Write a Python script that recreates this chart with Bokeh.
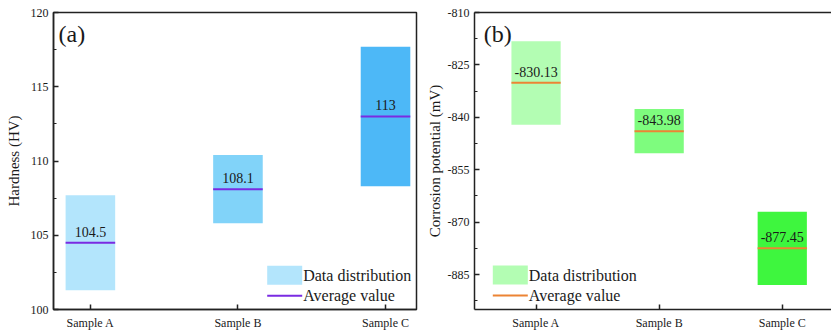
from bokeh.plotting import figure
from bokeh.layouts import row
from bokeh.models import FixedTicker, Range1d, LinearAxis
from bokeh.embed import file_html
from bokeh.resources import INLINE
from bokeh.core.properties import value

# ---------------- data ----------------
samples = ["Sample A", "Sample B", "Sample C"]
xpos = [1, 2, 3]

hard_low = [101.3, 105.8, 108.3]
hard_high = [107.7, 110.4, 117.7]
hard_avg = [104.5, 108.1, 113.0]
hard_text = ["104.5", "108.1", "113"]
hard_ticks = [100, 105, 110, 115, 120]
hard_tick_labels = ["100", "105", "110", "115", "120"]
hard_minor = [102.5, 107.5, 112.5, 117.5]

corr_low = [-842.1, -850.3, -888.0]
corr_high = [-818.2, -837.6, -867.0]
corr_avg = [-830.13, -843.98, -877.45]
corr_text = ["-830.13", "-843.98", "-877.45"]
corr_ticks = [-885, -870, -855, -840, -825, -810]
corr_tick_labels = ["-885", "-870", "-855", "-840", "-825", "-810"]
corr_minor = [-892.5, -877.5, -862.5, -847.5, -832.5, -817.5]

hard_colors = ["#b3e5fc", "#81d3f9", "#4db8f7"]
corr_colors = ["#b3fdb3", "#7efc7e", "#3ef63e"]
hard_line = "#7a2be2"
corr_line = "#ec8434"

FONT = "Liberation Serif"
TXT = "#1a1a1a"
AX = "#222222"
FH = 297
TOP = 12


def panel(fw, ml, mr, xr, yr, ticks, tick_labels, minor, ylabel, lo, hi,
          avg, texts, colors, avg_color, bar_w, tag, leg_px, tag_px,
          lab_standoff):
    p = figure(frame_width=fw, frame_height=FH, x_range=Range1d(*xr),
               y_range=Range1d(*yr), min_border_left=ml, min_border_right=mr,
               min_border_top=TOP, min_border_bottom=24,
               output_backend="svg", toolbar_location=None,
               background_fill_color="white", border_fill_color="white")
    p.xgrid.visible = False
    p.ygrid.visible = False

    def px(xp, yp):
        # convert frame pixel offsets to data coordinates (layout helper)
        x = xr[0] + (xr[1] - xr[0]) * xp / fw
        y = yr[1] - (yr[1] - yr[0]) * yp / FH
        return x, y

    for ax in (p.xaxis[0], p.yaxis[0]):
        ax.axis_line_color = AX
        ax.axis_line_width = 1.5
        ax.major_tick_line_color = AX
        ax.major_tick_line_width = 1.5
        ax.minor_tick_line_color = AX
        ax.minor_tick_line_width = 1.2
        ax.major_tick_in = 5
        ax.major_tick_out = 0
        ax.minor_tick_in = 3
        ax.minor_tick_out = 0
        ax.major_label_text_font = FONT
        ax.major_label_text_font_size = "12px"
        ax.major_label_text_color = TXT
        ax.axis_label_text_font = FONT
        ax.axis_label_text_font_style = "normal"
        ax.axis_label_text_font_size = "15px"
        ax.axis_label_text_color = TXT

    p.xaxis.ticker = FixedTicker(ticks=xpos)
    p.xaxis.major_label_overrides = {x: s for x, s in zip(xpos, samples)}
    p.xaxis.minor_tick_line_color = None
    p.xaxis.major_label_standoff = 6
    p.yaxis.ticker = FixedTicker(ticks=ticks, minor_ticks=minor)
    p.yaxis.major_label_overrides = {t: s for t, s in zip(ticks, tick_labels)}
    p.yaxis.major_label_standoff = 5
    p.yaxis.axis_label = ylabel
    p.yaxis.axis_label_standoff = lab_standoff

    p.vbar(x=xpos, width=bar_w, bottom=lo, top=hi, fill_color=colors,
           line_color=None)
    x0 = [x - bar_w / 2 for x in xpos]
    x1 = [x + bar_w / 2 for x in xpos]
    p.segment(x0=x0, y0=avg, x1=x1, y1=avg, line_color=avg_color,
              line_width=2)
    p.text(x=xpos, y=avg, text=texts, text_align="center",
           text_baseline="middle", y_offset=-11,
           text_font=value(FONT), text_font_size="14px", text_color=TXT)

    # panel tag
    tx, ty = px(*tag_px)
    p.text(x=[tx], y=[ty], text=[tag], text_align="left",
           text_baseline="middle", text_font=value(FONT),
           text_font_size="24px", text_color=TXT)

    # legend (manual)
    lx, ly = leg_px
    a0, b0 = px(lx, ly)
    a1, b1 = px(lx + 35, ly + 19)
    p.quad(left=[a0], right=[a1], top=[b0], bottom=[b1],
           fill_color=colors[0], line_color=None)
    _, bl = px(0, ly + 30)
    p.segment(x0=[a0], x1=[a1], y0=[bl], y1=[bl], line_color=avg_color,
              line_width=2)
    tx0, t1 = px(lx + 36, ly + 9.5)
    _, t2 = px(0, ly + 29.5)
    p.text(x=[tx0, tx0], y=[t1, t2],
           text=["Data distribution", "Average value"],
           text_align="left", text_baseline="middle",
           text_font=value(FONT), text_font_size="16px", text_color=TXT)
    return p


p1 = panel(363, 53, 4, (0.75, 3.21), (100, 120), hard_ticks,
           hard_tick_labels, hard_minor, "Hardness (HV)", hard_low,
           hard_high, hard_avg, hard_text, hard_colors, hard_line, 0.336,
           "(a)", (213.7, 253.3), (5, 21.5), 6)
p1.outline_line_color = AX
p1.outline_line_width = 1.5

p2 = panel(357, 54, 0, (0.5, 3.4), (-895, -810), corr_ticks,
           corr_tick_labels, corr_minor, "Corrosion potential (mV)",
           corr_low, corr_high, corr_avg, corr_text, corr_colors, corr_line,
           0.4, "(b)", (18.3, 253), (9.3, 21), 2)
p2.outline_line_color = None
top_axis = LinearAxis(ticker=FixedTicker(ticks=[]), axis_line_color=AX,
                      axis_line_width=1.5, major_tick_line_color=None,
                      minor_tick_line_color=None,
                      major_label_text_font_size="0px")
p2.add_layout(top_axis, "above")

layout = row(p1, p2)
open("out.html", "w").write(file_html(layout, INLINE))
